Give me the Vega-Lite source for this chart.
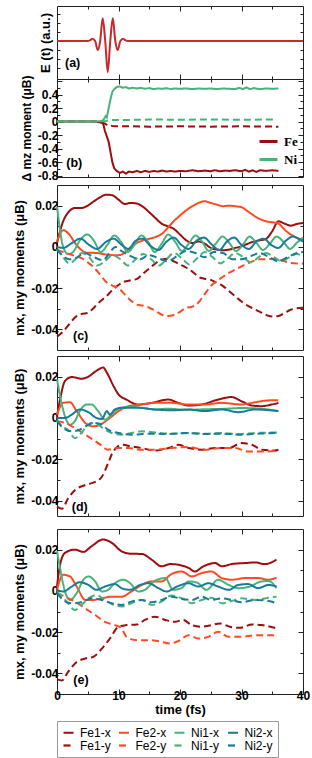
{
"$schema":"https://vega.github.io/schema/vega-lite/v6.json",
"padding":{"left":13,"top":5,"right":3,"bottom":2},
"config":{"font":"Liberation Sans","view":{"stroke":"#222","strokeWidth":1},
 "axis":{"domain":false,"grid":false,"tickColor":"#222","tickWidth":1,"labelFont":"Liberation Sans","labelFontWeight":"bold","labelFontSize":12,"labelColor":"#000","titleFont":"Liberation Sans","titleFontWeight":"bold","titleFontSize":13,"titleColor":"#000","labelFlush":false,"labelOverlap":false}},
"datasets":{
"a":[{"t":0,"v":0},{"t":5,"v":0},{"t":5.35,"v":0.02},{"t":5.75,"v":0.07},{"t":6.2,"v":0},{"t":6.63,"v":-0.3},{"t":7.02,"v":0},{"t":7.43,"v":0.75},{"t":7.84,"v":0},{"t":8.25,"v":-1.02},{"t":8.66,"v":0},{"t":9.07,"v":0.75},{"t":9.48,"v":0},{"t":9.87,"v":-0.3},{"t":10.3,"v":0},{"t":10.75,"v":0.07},{"t":11.15,"v":0.02},{"t":11.5,"v":0},{"t":40,"v":0}],
"b":[
{"s":"Fe","d":"b","t":0,"v":0},{"s":"Fe","d":"b","t":6.5,"v":0},{"s":"Fe","d":"b","t":7.3,"v":-0.01},{"s":"Fe","d":"b","t":7.8,"v":-0.03},{"s":"Fe","d":"b","t":8.3,"v":-0.06},{"s":"Fe","d":"b","t":9,"v":-0.065},{"s":"Fe","d":"b","t":10,"v":-0.07},{"s":"Fe","d":"b","t":12,"v":-0.07},{"s":"Fe","d":"b","t":15,"v":-0.075},{"s":"Fe","d":"b","t":20,"v":-0.07},{"s":"Fe","d":"b","t":25,"v":-0.075},{"s":"Fe","d":"b","t":30,"v":-0.07},{"s":"Fe","d":"b","t":36,"v":-0.075},
{"s":"Fe","d":"a","t":0,"v":0},{"s":"Fe","d":"a","t":6,"v":0},{"s":"Fe","d":"a","t":7,"v":-0.01},{"s":"Fe","d":"a","t":7.5,"v":-0.03},{"s":"Fe","d":"a","t":7.8,"v":-0.14},{"s":"Fe","d":"a","t":8.1,"v":-0.22},{"s":"Fe","d":"a","t":8.4,"v":-0.3},{"s":"Fe","d":"a","t":8.7,"v":-0.45},{"s":"Fe","d":"a","t":9,"v":-0.6},{"s":"Fe","d":"a","t":9.3,"v":-0.69},{"s":"Fe","d":"a","t":9.7,"v":-0.73},{"s":"Fe","d":"a","t":10.2,"v":-0.76},{"s":"Fe","d":"a","t":10.7,"v":-0.74},{"s":"Fe","d":"a","t":11.2,"v":-0.77},{"s":"Fe","d":"a","t":11.7,"v":-0.74},{"s":"Fe","d":"a","t":12.3,"v":-0.75},{"s":"Fe","d":"a","t":13,"v":-0.73},{"s":"Fe","d":"a","t":13.6,"v":-0.75},{"s":"Fe","d":"a","t":14.3,"v":-0.73},{"s":"Fe","d":"a","t":15,"v":-0.745},{"s":"Fe","d":"a","t":15.7,"v":-0.73},{"s":"Fe","d":"a","t":16.4,"v":-0.74},{"s":"Fe","d":"a","t":17.1,"v":-0.725},{"s":"Fe","d":"a","t":17.8,"v":-0.74},{"s":"Fe","d":"a","t":18.5,"v":-0.73},{"s":"Fe","d":"a","t":19.2,"v":-0.74},{"s":"Fe","d":"a","t":20,"v":-0.73},{"s":"Fe","d":"a","t":21,"v":-0.735},{"s":"Fe","d":"a","t":22,"v":-0.72},{"s":"Fe","d":"a","t":23,"v":-0.735},{"s":"Fe","d":"a","t":24,"v":-0.725},{"s":"Fe","d":"a","t":25,"v":-0.735},{"s":"Fe","d":"a","t":25.7,"v":-0.72},{"s":"Fe","d":"a","t":26.5,"v":-0.735},{"s":"Fe","d":"a","t":27.3,"v":-0.725},{"s":"Fe","d":"a","t":28,"v":-0.73},{"s":"Fe","d":"a","t":29,"v":-0.72},{"s":"Fe","d":"a","t":30,"v":-0.735},{"s":"Fe","d":"a","t":30.6,"v":-0.715},{"s":"Fe","d":"a","t":31.2,"v":-0.74},{"s":"Fe","d":"a","t":31.8,"v":-0.72},{"s":"Fe","d":"a","t":32.4,"v":-0.745},{"s":"Fe","d":"a","t":33,"v":-0.72},{"s":"Fe","d":"a","t":34,"v":-0.73},{"s":"Fe","d":"a","t":35,"v":-0.72},{"s":"Fe","d":"a","t":36,"v":-0.73},
{"s":"Ni","d":"b","t":0,"v":0},{"s":"Ni","d":"b","t":7,"v":0},{"s":"Ni","d":"b","t":8,"v":0.01},{"s":"Ni","d":"b","t":8.5,"v":0.02},{"s":"Ni","d":"b","t":9.5,"v":0.025},{"s":"Ni","d":"b","t":12,"v":0.025},{"s":"Ni","d":"b","t":15,"v":0.03},{"s":"Ni","d":"b","t":20,"v":0.028},{"s":"Ni","d":"b","t":25,"v":0.03},{"s":"Ni","d":"b","t":30,"v":0.028},{"s":"Ni","d":"b","t":35.5,"v":0.03},
{"s":"Ni","d":"a","t":0,"v":0},{"s":"Ni","d":"a","t":6,"v":0},{"s":"Ni","d":"a","t":7,"v":0.005},{"s":"Ni","d":"a","t":7.5,"v":0.02},{"s":"Ni","d":"a","t":7.9,"v":0.08},{"s":"Ni","d":"a","t":8.1,"v":0.06},{"s":"Ni","d":"a","t":8.4,"v":0.2},{"s":"Ni","d":"a","t":8.7,"v":0.33},{"s":"Ni","d":"a","t":9,"v":0.44},{"s":"Ni","d":"a","t":9.3,"v":0.48},{"s":"Ni","d":"a","t":9.7,"v":0.51},{"s":"Ni","d":"a","t":10.2,"v":0.52},{"s":"Ni","d":"a","t":10.7,"v":0.5},{"s":"Ni","d":"a","t":11.2,"v":0.51},{"s":"Ni","d":"a","t":11.7,"v":0.49},{"s":"Ni","d":"a","t":12.3,"v":0.5},{"s":"Ni","d":"a","t":13,"v":0.49},{"s":"Ni","d":"a","t":13.6,"v":0.5},{"s":"Ni","d":"a","t":14.3,"v":0.485},{"s":"Ni","d":"a","t":15,"v":0.495},{"s":"Ni","d":"a","t":15.7,"v":0.48},{"s":"Ni","d":"a","t":16.4,"v":0.49},{"s":"Ni","d":"a","t":17.1,"v":0.485},{"s":"Ni","d":"a","t":17.8,"v":0.495},{"s":"Ni","d":"a","t":18.5,"v":0.48},{"s":"Ni","d":"a","t":19.2,"v":0.49},{"s":"Ni","d":"a","t":20,"v":0.485},{"s":"Ni","d":"a","t":21,"v":0.49},{"s":"Ni","d":"a","t":22,"v":0.48},{"s":"Ni","d":"a","t":23,"v":0.49},{"s":"Ni","d":"a","t":24,"v":0.485},{"s":"Ni","d":"a","t":25,"v":0.49},{"s":"Ni","d":"a","t":26,"v":0.48},{"s":"Ni","d":"a","t":27,"v":0.49},{"s":"Ni","d":"a","t":28,"v":0.485},{"s":"Ni","d":"a","t":29,"v":0.48},{"s":"Ni","d":"a","t":29.6,"v":0.5},{"s":"Ni","d":"a","t":30.2,"v":0.48},{"s":"Ni","d":"a","t":30.8,"v":0.505},{"s":"Ni","d":"a","t":31.4,"v":0.48},{"s":"Ni","d":"a","t":32,"v":0.495},{"s":"Ni","d":"a","t":33,"v":0.48},{"s":"Ni","d":"a","t":34,"v":0.49},{"s":"Ni","d":"a","t":35,"v":0.485},{"s":"Ni","d":"a","t":36,"v":0.49}],
"c":[
{"s":"Fe1-x","t":0,"v":0.0019},{"s":"Fe1-x","t":1,"v":0.0124},{"s":"Fe1-x","t":2,"v":0.0173},{"s":"Fe1-x","t":3,"v":0.0189},{"s":"Fe1-x","t":4,"v":0.0189},{"s":"Fe1-x","t":5,"v":0.02},{"s":"Fe1-x","t":6,"v":0.0221},{"s":"Fe1-x","t":7,"v":0.024},{"s":"Fe1-x","t":8,"v":0.0253},{"s":"Fe1-x","t":9,"v":0.025},{"s":"Fe1-x","t":10,"v":0.0229},{"s":"Fe1-x","t":11,"v":0.0208},{"s":"Fe1-x","t":12,"v":0.0213},{"s":"Fe1-x","t":13,"v":0.021},{"s":"Fe1-x","t":14,"v":0.0194},{"s":"Fe1-x","t":15,"v":0.0168},{"s":"Fe1-x","t":16,"v":0.014},{"s":"Fe1-x","t":17,"v":0.0113},{"s":"Fe1-x","t":18,"v":0.01},{"s":"Fe1-x","t":19,"v":0.0087},{"s":"Fe1-x","t":20,"v":0.006},{"s":"Fe1-x","t":21,"v":0.0032},{"s":"Fe1-x","t":22,"v":0.0019},{"s":"Fe1-x","t":23,"v":0.0026},{"s":"Fe1-x","t":24,"v":0.0016},{"s":"Fe1-x","t":25,"v":-0.0005},{"s":"Fe1-x","t":26,"v":-0.0013},{"s":"Fe1-x","t":27,"v":-0.0016},{"s":"Fe1-x","t":28,"v":-0.0013},{"s":"Fe1-x","t":29,"v":-0.0005},{"s":"Fe1-x","t":30,"v":0.0003},{"s":"Fe1-x","t":31,"v":0.0015},{"s":"Fe1-x","t":32,"v":0.0026},{"s":"Fe1-x","t":33,"v":0.0032},{"s":"Fe1-x","t":34,"v":0.0039},{"s":"Fe1-x","t":35,"v":0.0076},{"s":"Fe1-x","t":36,"v":0.0124},{"s":"Fe1-x","t":37,"v":0.0113},{"s":"Fe1-x","t":38,"v":0.0103},{"s":"Fe1-x","t":39,"v":0.0111},{"s":"Fe1-x","t":40,"v":0.0116},
{"s":"Fe2-x","t":0,"v":0.0027},{"s":"Fe2-x","t":1,"v":0.0081},{"s":"Fe2-x","t":2,"v":0.006},{"s":"Fe2-x","t":3,"v":0.0016},{"s":"Fe2-x","t":4,"v":-0.0016},{"s":"Fe2-x","t":5,"v":-0.0029},{"s":"Fe2-x","t":6,"v":-0.0029},{"s":"Fe2-x","t":7,"v":-0.0032},{"s":"Fe2-x","t":8,"v":-0.0037},{"s":"Fe2-x","t":9,"v":-0.004},{"s":"Fe2-x","t":10,"v":-0.004},{"s":"Fe2-x","t":11,"v":-0.0029},{"s":"Fe2-x","t":12,"v":-0.0002},{"s":"Fe2-x","t":13,"v":0.0019},{"s":"Fe2-x","t":14,"v":0.0032},{"s":"Fe2-x","t":15,"v":0.0039},{"s":"Fe2-x","t":16,"v":0.0048},{"s":"Fe2-x","t":17,"v":0.0062},{"s":"Fe2-x","t":18,"v":0.0092},{"s":"Fe2-x","t":19,"v":0.0125},{"s":"Fe2-x","t":20,"v":0.0152},{"s":"Fe2-x","t":21,"v":0.0177},{"s":"Fe2-x","t":22,"v":0.0197},{"s":"Fe2-x","t":23,"v":0.0213},{"s":"Fe2-x","t":24,"v":0.0221},{"s":"Fe2-x","t":25,"v":0.0213},{"s":"Fe2-x","t":26,"v":0.0205},{"s":"Fe2-x","t":27,"v":0.0197},{"s":"Fe2-x","t":28,"v":0.02},{"s":"Fe2-x","t":29,"v":0.0197},{"s":"Fe2-x","t":30,"v":0.0192},{"s":"Fe2-x","t":31,"v":0.0173},{"s":"Fe2-x","t":32,"v":0.0152},{"s":"Fe2-x","t":33,"v":0.0135},{"s":"Fe2-x","t":34,"v":0.0124},{"s":"Fe2-x","t":35,"v":0.0119},{"s":"Fe2-x","t":36,"v":0.0113},{"s":"Fe2-x","t":37,"v":0.0084},{"s":"Fe2-x","t":38,"v":0.006},{"s":"Fe2-x","t":39,"v":0.0044},{"s":"Fe2-x","t":40,"v":0.0035},
{"s":"Ni1-x","t":0,"v":0.0195},{"s":"Ni1-x","t":0.5,"v":0.008},{"s":"Ni1-x","t":1,"v":0},{"s":"Ni1-x","t":1.8,"v":-0.0035},{"s":"Ni1-x","t":2.6,"v":-0.0025},{"s":"Ni1-x","t":3.7,"v":0.003},{"s":"Ni1-x","t":4.9,"v":0.006},{"s":"Ni1-x","t":6,"v":0.003},{"s":"Ni1-x","t":7.1,"v":-0.0025},{"s":"Ni1-x","t":8.2,"v":0.001},{"s":"Ni1-x","t":9.3,"v":0.0055},{"s":"Ni1-x","t":10.4,"v":0.0025},{"s":"Ni1-x","t":11.5,"v":-0.0025},{"s":"Ni1-x","t":12.6,"v":0.001},{"s":"Ni1-x","t":13.7,"v":0.0055},{"s":"Ni1-x","t":14.8,"v":0.0025},{"s":"Ni1-x","t":15.9,"v":-0.0025},{"s":"Ni1-x","t":17,"v":0.0015},{"s":"Ni1-x","t":18.1,"v":0.006},{"s":"Ni1-x","t":19.2,"v":0.0025},{"s":"Ni1-x","t":20.3,"v":-0.002},{"s":"Ni1-x","t":21.4,"v":0.0015},{"s":"Ni1-x","t":22.5,"v":0.0055},{"s":"Ni1-x","t":23.6,"v":0.0025},{"s":"Ni1-x","t":24.7,"v":-0.002},{"s":"Ni1-x","t":25.8,"v":0.0015},{"s":"Ni1-x","t":26.9,"v":0.005},{"s":"Ni1-x","t":28,"v":0.002},{"s":"Ni1-x","t":29.1,"v":-0.002},{"s":"Ni1-x","t":30.2,"v":0.001},{"s":"Ni1-x","t":31.3,"v":0.005},{"s":"Ni1-x","t":32.4,"v":0.002},{"s":"Ni1-x","t":33.5,"v":-0.0015},{"s":"Ni1-x","t":34.6,"v":0.0015},{"s":"Ni1-x","t":35.7,"v":0.005},{"s":"Ni1-x","t":36.8,"v":0.0025},{"s":"Ni1-x","t":37.9,"v":-0.001},{"s":"Ni1-x","t":39,"v":0.002},{"s":"Ni1-x","t":40,"v":0.0045},
{"s":"Ni2-x","t":0,"v":0},{"s":"Ni2-x","t":1,"v":-0.0005},{"s":"Ni2-x","t":2.5,"v":0.002},{"s":"Ni2-x","t":3.8,"v":0.004},{"s":"Ni2-x","t":5.2,"v":0.001},{"s":"Ni2-x","t":6.5,"v":-0.001},{"s":"Ni2-x","t":8,"v":0.0025},{"s":"Ni2-x","t":9.2,"v":0.004},{"s":"Ni2-x","t":10.5,"v":0.001},{"s":"Ni2-x","t":11.6,"v":-0.001},{"s":"Ni2-x","t":12.8,"v":0.003},{"s":"Ni2-x","t":13.9,"v":0.004},{"s":"Ni2-x","t":15.2,"v":0.0005},{"s":"Ni2-x","t":16.5,"v":-0.0015},{"s":"Ni2-x","t":17.8,"v":0.0025},{"s":"Ni2-x","t":19,"v":0.0045},{"s":"Ni2-x","t":20.2,"v":0.001},{"s":"Ni2-x","t":21.4,"v":-0.001},{"s":"Ni2-x","t":22.7,"v":0.003},{"s":"Ni2-x","t":23.9,"v":0.0045},{"s":"Ni2-x","t":25.2,"v":0.001},{"s":"Ni2-x","t":26.4,"v":-0.0015},{"s":"Ni2-x","t":27.6,"v":0.0025},{"s":"Ni2-x","t":28.8,"v":0.0045},{"s":"Ni2-x","t":30,"v":0.001},{"s":"Ni2-x","t":31.2,"v":-0.001},{"s":"Ni2-x","t":32.4,"v":0.0025},{"s":"Ni2-x","t":33.6,"v":0.004},{"s":"Ni2-x","t":34.8,"v":0.001},{"s":"Ni2-x","t":36,"v":-0.0005},{"s":"Ni2-x","t":37.2,"v":0.003},{"s":"Ni2-x","t":38.4,"v":0.005},{"s":"Ni2-x","t":39.5,"v":0.0035},{"s":"Ni2-x","t":40,"v":0.0025},
{"s":"Fe1-y","t":0,"v":-0.0435},{"s":"Fe1-y","t":1,"v":-0.041},{"s":"Fe1-y","t":2,"v":-0.0375},{"s":"Fe1-y","t":3,"v":-0.034},{"s":"Fe1-y","t":4,"v":-0.0325},{"s":"Fe1-y","t":5,"v":-0.032},{"s":"Fe1-y","t":6,"v":-0.0295},{"s":"Fe1-y","t":7,"v":-0.0265},{"s":"Fe1-y","t":8,"v":-0.024},{"s":"Fe1-y","t":9,"v":-0.021},{"s":"Fe1-y","t":10,"v":-0.0185},{"s":"Fe1-y","t":11,"v":-0.0168},{"s":"Fe1-y","t":12,"v":-0.0162},{"s":"Fe1-y","t":13,"v":-0.0155},{"s":"Fe1-y","t":14,"v":-0.013},{"s":"Fe1-y","t":15,"v":-0.0105},{"s":"Fe1-y","t":16,"v":-0.008},{"s":"Fe1-y","t":17,"v":-0.0062},{"s":"Fe1-y","t":18,"v":-0.0057},{"s":"Fe1-y","t":19,"v":-0.007},{"s":"Fe1-y","t":20,"v":-0.0085},{"s":"Fe1-y","t":21,"v":-0.01},{"s":"Fe1-y","t":22,"v":-0.012},{"s":"Fe1-y","t":23,"v":-0.0145},{"s":"Fe1-y","t":24,"v":-0.0155},{"s":"Fe1-y","t":25,"v":-0.016},{"s":"Fe1-y","t":26,"v":-0.0175},{"s":"Fe1-y","t":27,"v":-0.019},{"s":"Fe1-y","t":28,"v":-0.0215},{"s":"Fe1-y","t":29,"v":-0.024},{"s":"Fe1-y","t":30,"v":-0.0265},{"s":"Fe1-y","t":31,"v":-0.0285},{"s":"Fe1-y","t":32,"v":-0.03},{"s":"Fe1-y","t":33,"v":-0.0315},{"s":"Fe1-y","t":34,"v":-0.033},{"s":"Fe1-y","t":35,"v":-0.0338},{"s":"Fe1-y","t":36,"v":-0.0335},{"s":"Fe1-y","t":37,"v":-0.032},{"s":"Fe1-y","t":38,"v":-0.0305},{"s":"Fe1-y","t":39,"v":-0.0298},{"s":"Fe1-y","t":40,"v":-0.0295},
{"s":"Fe2-y","t":0,"v":-0.0013},{"s":"Fe2-y","t":1,"v":-0.0025},{"s":"Fe2-y","t":2,"v":-0.0035},{"s":"Fe2-y","t":3,"v":-0.0045},{"s":"Fe2-y","t":4,"v":-0.0055},{"s":"Fe2-y","t":5,"v":-0.0075},{"s":"Fe2-y","t":6,"v":-0.01},{"s":"Fe2-y","t":7,"v":-0.0135},{"s":"Fe2-y","t":8,"v":-0.017},{"s":"Fe2-y","t":9,"v":-0.0188},{"s":"Fe2-y","t":10,"v":-0.02},{"s":"Fe2-y","t":11,"v":-0.023},{"s":"Fe2-y","t":12,"v":-0.026},{"s":"Fe2-y","t":13,"v":-0.028},{"s":"Fe2-y","t":14,"v":-0.0285},{"s":"Fe2-y","t":15,"v":-0.0295},{"s":"Fe2-y","t":16,"v":-0.031},{"s":"Fe2-y","t":17,"v":-0.0328},{"s":"Fe2-y","t":18,"v":-0.0335},{"s":"Fe2-y","t":19,"v":-0.033},{"s":"Fe2-y","t":20,"v":-0.0315},{"s":"Fe2-y","t":21,"v":-0.0295},{"s":"Fe2-y","t":22,"v":-0.029},{"s":"Fe2-y","t":23,"v":-0.027},{"s":"Fe2-y","t":24,"v":-0.023},{"s":"Fe2-y","t":25,"v":-0.019},{"s":"Fe2-y","t":26,"v":-0.0165},{"s":"Fe2-y","t":27,"v":-0.0145},{"s":"Fe2-y","t":28,"v":-0.0125},{"s":"Fe2-y","t":29,"v":-0.011},{"s":"Fe2-y","t":30,"v":-0.0095},{"s":"Fe2-y","t":31,"v":-0.008},{"s":"Fe2-y","t":32,"v":-0.0068},{"s":"Fe2-y","t":33,"v":-0.006},{"s":"Fe2-y","t":34,"v":-0.006},{"s":"Fe2-y","t":35,"v":-0.0058},{"s":"Fe2-y","t":36,"v":-0.0062},{"s":"Fe2-y","t":37,"v":-0.007},{"s":"Fe2-y","t":38,"v":-0.0078},{"s":"Fe2-y","t":39,"v":-0.008},{"s":"Fe2-y","t":40,"v":-0.008},
{"s":"Ni1-y","t":0,"v":-0.001},{"s":"Ni1-y","t":1,"v":-0.005},{"s":"Ni1-y","t":2,"v":-0.008},{"s":"Ni1-y","t":3,"v":-0.006},{"s":"Ni1-y","t":4,"v":-0.003},{"s":"Ni1-y","t":5.2,"v":-0.005},{"s":"Ni1-y","t":6.5,"v":-0.009},{"s":"Ni1-y","t":7.8,"v":-0.007},{"s":"Ni1-y","t":9,"v":-0.004},{"s":"Ni1-y","t":10.3,"v":-0.006},{"s":"Ni1-y","t":11.5,"v":-0.009},{"s":"Ni1-y","t":12.8,"v":-0.006},{"s":"Ni1-y","t":14,"v":-0.0035},{"s":"Ni1-y","t":15.3,"v":-0.006},{"s":"Ni1-y","t":16.6,"v":-0.009},{"s":"Ni1-y","t":17.8,"v":-0.006},{"s":"Ni1-y","t":19,"v":-0.003},{"s":"Ni1-y","t":20.3,"v":-0.0055},{"s":"Ni1-y","t":21.5,"v":-0.0085},{"s":"Ni1-y","t":22.8,"v":-0.0055},{"s":"Ni1-y","t":24,"v":-0.0025},{"s":"Ni1-y","t":25.3,"v":-0.005},{"s":"Ni1-y","t":26.6,"v":-0.008},{"s":"Ni1-y","t":27.8,"v":-0.0055},{"s":"Ni1-y","t":29,"v":-0.003},{"s":"Ni1-y","t":30.3,"v":-0.005},{"s":"Ni1-y","t":31.5,"v":-0.0075},{"s":"Ni1-y","t":32.8,"v":-0.005},{"s":"Ni1-y","t":34,"v":-0.003},{"s":"Ni1-y","t":35.3,"v":-0.005},{"s":"Ni1-y","t":36.5,"v":-0.007},{"s":"Ni1-y","t":37.8,"v":-0.005},{"s":"Ni1-y","t":39,"v":-0.0035},{"s":"Ni1-y","t":40,"v":-0.0045},
{"s":"Ni2-y","t":0,"v":-0.0013},{"s":"Ni2-y","t":1,"v":-0.0045},{"s":"Ni2-y","t":2,"v":-0.006},{"s":"Ni2-y","t":3,"v":-0.0055},{"s":"Ni2-y","t":4.5,"v":-0.003},{"s":"Ni2-y","t":6,"v":-0.005},{"s":"Ni2-y","t":7.5,"v":-0.0065},{"s":"Ni2-y","t":8.5,"v":-0.003},{"s":"Ni2-y","t":9.5,"v":0},{"s":"Ni2-y","t":10.5,"v":-0.002},{"s":"Ni2-y","t":12,"v":-0.0045},{"s":"Ni2-y","t":13.5,"v":-0.006},{"s":"Ni2-y","t":15,"v":-0.004},{"s":"Ni2-y","t":16.5,"v":-0.0055},{"s":"Ni2-y","t":18,"v":-0.007},{"s":"Ni2-y","t":19.5,"v":-0.0045},{"s":"Ni2-y","t":21,"v":-0.002},{"s":"Ni2-y","t":22.5,"v":-0.003},{"s":"Ni2-y","t":24,"v":-0.005},{"s":"Ni2-y","t":25.5,"v":-0.0025},{"s":"Ni2-y","t":27,"v":-0.003},{"s":"Ni2-y","t":28.5,"v":-0.006},{"s":"Ni2-y","t":30,"v":-0.006},{"s":"Ni2-y","t":31.5,"v":-0.0045},{"s":"Ni2-y","t":33,"v":-0.003},{"s":"Ni2-y","t":34.5,"v":-0.005},{"s":"Ni2-y","t":36,"v":-0.007},{"s":"Ni2-y","t":37.5,"v":-0.005},{"s":"Ni2-y","t":39,"v":-0.003},{"s":"Ni2-y","t":40,"v":-0.0025}],
"d":[
{"s":"Fe1-x","t":0,"v":0.0008},{"s":"Fe1-x","t":0.5,"v":0.009},{"s":"Fe1-x","t":1.3,"v":0.0179},{"s":"Fe1-x","t":2.4,"v":0.0198},{"s":"Fe1-x","t":4,"v":0.019},{"s":"Fe1-x","t":5.1,"v":0.02},{"s":"Fe1-x","t":6.4,"v":0.0228},{"s":"Fe1-x","t":7.5,"v":0.0244},{"s":"Fe1-x","t":8.1,"v":0.022},{"s":"Fe1-x","t":9.2,"v":0.0154},{"s":"Fe1-x","t":10,"v":0.0114},{"s":"Fe1-x","t":11.3,"v":0.0089},{"s":"Fe1-x","t":13.2,"v":0.0065},{"s":"Fe1-x","t":15.4,"v":0.0073},{"s":"Fe1-x","t":18.1,"v":0.0089},{"s":"Fe1-x","t":19.7,"v":0.0073},{"s":"Fe1-x","t":21.4,"v":0.006},{"s":"Fe1-x","t":23.5,"v":0.0065},{"s":"Fe1-x","t":26.2,"v":0.0089},{"s":"Fe1-x","t":28.4,"v":0.0101},{"s":"Fe1-x","t":30,"v":0.0081},{"s":"Fe1-x","t":31.7,"v":0.006},{"s":"Fe1-x","t":33.3,"v":0.0057},{"s":"Fe1-x","t":34.9,"v":0.0065},{"s":"Fe1-x","t":36,"v":0.0073},
{"s":"Fe2-x","t":0,"v":0.0016},{"s":"Fe2-x","t":1,"v":0.0073},{"s":"Fe2-x","t":2.1,"v":0.0076},{"s":"Fe2-x","t":3.2,"v":0.0033},{"s":"Fe2-x","t":4.6,"v":-0.0024},{"s":"Fe2-x","t":5.9,"v":-0.0041},{"s":"Fe2-x","t":7.3,"v":-0.0028},{"s":"Fe2-x","t":8.6,"v":0},{"s":"Fe2-x","t":10,"v":0.0033},{"s":"Fe2-x","t":11.6,"v":0.0057},{"s":"Fe2-x","t":13.8,"v":0.0065},{"s":"Fe2-x","t":15.9,"v":0.0073},{"s":"Fe2-x","t":18.6,"v":0.0073},{"s":"Fe2-x","t":21.4,"v":0.0065},{"s":"Fe2-x","t":24,"v":0.0065},{"s":"Fe2-x","t":26.8,"v":0.0073},{"s":"Fe2-x","t":30,"v":0.0065},{"s":"Fe2-x","t":32.2,"v":0.0076},{"s":"Fe2-x","t":34.4,"v":0.0085},{"s":"Fe2-x","t":36,"v":0.0086},
{"s":"Ni1-x","t":0,"v":0.0187},{"s":"Ni1-x","t":0.5,"v":0.0106},{"s":"Ni1-x","t":1.3,"v":0.0008},{"s":"Ni1-x","t":2.1,"v":-0.0033},{"s":"Ni1-x","t":2.9,"v":-0.0016},{"s":"Ni1-x","t":3.7,"v":0.0033},{"s":"Ni1-x","t":4.8,"v":0.0065},{"s":"Ni1-x","t":5.6,"v":0.0065},{"s":"Ni1-x","t":6.7,"v":0.0033},{"s":"Ni1-x","t":7.8,"v":-0.0008},{"s":"Ni1-x","t":8.6,"v":0.0008},{"s":"Ni1-x","t":9.4,"v":0.0033},{"s":"Ni1-x","t":10.5,"v":0.0049},{"s":"Ni1-x","t":12.1,"v":0.0054},{"s":"Ni1-x","t":13.8,"v":0.0049},{"s":"Ni1-x","t":15.9,"v":0.0041},{"s":"Ni1-x","t":18,"v":0.0045},{"s":"Ni1-x","t":21,"v":0.0039},{"s":"Ni1-x","t":24,"v":0.0042},{"s":"Ni1-x","t":27,"v":0.0044},{"s":"Ni1-x","t":30,"v":0.0048},{"s":"Ni1-x","t":33,"v":0.0045},{"s":"Ni1-x","t":36,"v":0.0033},
{"s":"Ni2-x","t":0,"v":0},{"s":"Ni2-x","t":1.3,"v":0},{"s":"Ni2-x","t":2.4,"v":0.0016},{"s":"Ni2-x","t":3.7,"v":0.0041},{"s":"Ni2-x","t":5.1,"v":0.0028},{"s":"Ni2-x","t":6.4,"v":0},{"s":"Ni2-x","t":7.3,"v":-0.0005},{"s":"Ni2-x","t":8.1,"v":0.0033},{"s":"Ni2-x","t":8.6,"v":0.0016},{"s":"Ni2-x","t":9.4,"v":0.0041},{"s":"Ni2-x","t":10.5,"v":0.0049},{"s":"Ni2-x","t":13.2,"v":0.0049},{"s":"Ni2-x","t":15.9,"v":0.0041},{"s":"Ni2-x","t":18.6,"v":0.0037},{"s":"Ni2-x","t":21.4,"v":0.0041},{"s":"Ni2-x","t":24,"v":0.0033},{"s":"Ni2-x","t":26.8,"v":0.0041},{"s":"Ni2-x","t":29.5,"v":0.0028},{"s":"Ni2-x","t":32.2,"v":0.0041},{"s":"Ni2-x","t":36,"v":0.0033},
{"s":"Fe1-y","t":0,"v":-0.043},{"s":"Fe1-y","t":0.8,"v":-0.044},{"s":"Fe1-y","t":1.8,"v":-0.039},{"s":"Fe1-y","t":2.9,"v":-0.035},{"s":"Fe1-y","t":4.6,"v":-0.0325},{"s":"Fe1-y","t":6.2,"v":-0.031},{"s":"Fe1-y","t":7.3,"v":-0.0285},{"s":"Fe1-y","t":8.3,"v":-0.022},{"s":"Fe1-y","t":9,"v":-0.017},{"s":"Fe1-y","t":9.7,"v":-0.0143},{"s":"Fe1-y","t":10.5,"v":-0.013},{"s":"Fe1-y","t":12.1,"v":-0.0138},{"s":"Fe1-y","t":13.8,"v":-0.0146},{"s":"Fe1-y","t":15.9,"v":-0.0158},{"s":"Fe1-y","t":18.1,"v":-0.0146},{"s":"Fe1-y","t":19.7,"v":-0.013},{"s":"Fe1-y","t":21.4,"v":-0.0146},{"s":"Fe1-y","t":23.5,"v":-0.0154},{"s":"Fe1-y","t":25.7,"v":-0.0146},{"s":"Fe1-y","t":27.9,"v":-0.0146},{"s":"Fe1-y","t":30,"v":-0.0122},{"s":"Fe1-y","t":31.7,"v":-0.013},{"s":"Fe1-y","t":33.3,"v":-0.0154},{"s":"Fe1-y","t":35.4,"v":-0.0158},{"s":"Fe1-y","t":36,"v":-0.0154},
{"s":"Fe2-y","t":0,"v":-0.0016},{"s":"Fe2-y","t":1.3,"v":-0.0024},{"s":"Fe2-y","t":2.9,"v":-0.0049},{"s":"Fe2-y","t":4.6,"v":-0.0081},{"s":"Fe2-y","t":5.9,"v":-0.0106},{"s":"Fe2-y","t":7.3,"v":-0.0135},{"s":"Fe2-y","t":8.3,"v":-0.0154},{"s":"Fe2-y","t":9.7,"v":-0.0146},{"s":"Fe2-y","t":11.6,"v":-0.0146},{"s":"Fe2-y","t":13.8,"v":-0.0154},{"s":"Fe2-y","t":15.9,"v":-0.0154},{"s":"Fe2-y","t":18.6,"v":-0.0146},{"s":"Fe2-y","t":21.4,"v":-0.0141},{"s":"Fe2-y","t":24,"v":-0.0154},{"s":"Fe2-y","t":26.8,"v":-0.0146},{"s":"Fe2-y","t":29,"v":-0.0146},{"s":"Fe2-y","t":31.1,"v":-0.0163},{"s":"Fe2-y","t":33.3,"v":-0.0163},{"s":"Fe2-y","t":36,"v":-0.0158},
{"s":"Ni1-y","t":0,"v":-0.0008},{"s":"Ni1-y","t":0.8,"v":-0.004},{"s":"Ni1-y","t":1.8,"v":-0.0057},{"s":"Ni1-y","t":2.9,"v":-0.0098},{"s":"Ni1-y","t":3.7,"v":-0.0081},{"s":"Ni1-y","t":4.6,"v":-0.0049},{"s":"Ni1-y","t":5.6,"v":-0.0024},{"s":"Ni1-y","t":6.7,"v":-0.0033},{"s":"Ni1-y","t":7.8,"v":-0.0057},{"s":"Ni1-y","t":8.9,"v":-0.0073},{"s":"Ni1-y","t":10.5,"v":-0.0081},{"s":"Ni1-y","t":12.1,"v":-0.0073},{"s":"Ni1-y","t":13.8,"v":-0.0065},{"s":"Ni1-y","t":15.9,"v":-0.007},{"s":"Ni1-y","t":18.6,"v":-0.0076},{"s":"Ni1-y","t":21.4,"v":-0.0073},{"s":"Ni1-y","t":24,"v":-0.0076},{"s":"Ni1-y","t":26.8,"v":-0.0073},{"s":"Ni1-y","t":29.5,"v":-0.0078},{"s":"Ni1-y","t":32.2,"v":-0.0073},{"s":"Ni1-y","t":36,"v":-0.007},
{"s":"Ni2-y","t":0,"v":-0.0016},{"s":"Ni2-y","t":1,"v":-0.0049},{"s":"Ni2-y","t":2.4,"v":-0.0065},{"s":"Ni2-y","t":3.7,"v":-0.0057},{"s":"Ni2-y","t":5.1,"v":-0.0033},{"s":"Ni2-y","t":6.2,"v":-0.0024},{"s":"Ni2-y","t":7.3,"v":-0.0033},{"s":"Ni2-y","t":8.3,"v":-0.0057},{"s":"Ni2-y","t":10,"v":-0.0073},{"s":"Ni2-y","t":12.1,"v":-0.0081},{"s":"Ni2-y","t":15,"v":-0.0076},{"s":"Ni2-y","t":18,"v":-0.0078},{"s":"Ni2-y","t":21,"v":-0.0073},{"s":"Ni2-y","t":24,"v":-0.0078},{"s":"Ni2-y","t":27,"v":-0.0076},{"s":"Ni2-y","t":30,"v":-0.0081},{"s":"Ni2-y","t":33,"v":-0.0076},{"s":"Ni2-y","t":36,"v":-0.0073}],
"e":[
{"s":"Fe1-x","t":0,"v":0.0021},{"s":"Fe1-x","t":0.5,"v":0.0127},{"s":"Fe1-x","t":1.3,"v":0.0184},{"s":"Fe1-x","t":2.9,"v":0.02},{"s":"Fe1-x","t":4.3,"v":0.0189},{"s":"Fe1-x","t":5.6,"v":0.0216},{"s":"Fe1-x","t":7.5,"v":0.0249},{"s":"Fe1-x","t":8.9,"v":0.0233},{"s":"Fe1-x","t":10.5,"v":0.0192},{"s":"Fe1-x","t":12.1,"v":0.018},{"s":"Fe1-x","t":13.8,"v":0.0179},{"s":"Fe1-x","t":15.4,"v":0.0151},{"s":"Fe1-x","t":17,"v":0.0119},{"s":"Fe1-x","t":18.4,"v":0.013},{"s":"Fe1-x","t":19.7,"v":0.0127},{"s":"Fe1-x","t":21.4,"v":0.0111},{"s":"Fe1-x","t":22.4,"v":0.0094},{"s":"Fe1-x","t":23.8,"v":0.0119},{"s":"Fe1-x","t":25.7,"v":0.0135},{"s":"Fe1-x","t":26.8,"v":0.0119},{"s":"Fe1-x","t":28.4,"v":0.013},{"s":"Fe1-x","t":30.6,"v":0.0135},{"s":"Fe1-x","t":32.2,"v":0.0138},{"s":"Fe1-x","t":33.8,"v":0.013},{"s":"Fe1-x","t":35.7,"v":0.0151},
{"s":"Fe2-x","t":0,"v":0.0005},{"s":"Fe2-x","t":1,"v":0.0078},{"s":"Fe2-x","t":2.1,"v":0.007},{"s":"Fe2-x","t":3.2,"v":0.0021},{"s":"Fe2-x","t":4.6,"v":-0.0044},{"s":"Fe2-x","t":5.9,"v":-0.0044},{"s":"Fe2-x","t":7.3,"v":-0.0036},{"s":"Fe2-x","t":8.9,"v":-0.0028},{"s":"Fe2-x","t":10.5,"v":-0.0028},{"s":"Fe2-x","t":12.1,"v":-0.0003},{"s":"Fe2-x","t":13.8,"v":0.0029},{"s":"Fe2-x","t":15.4,"v":0.0046},{"s":"Fe2-x","t":17,"v":0.0046},{"s":"Fe2-x","t":18.6,"v":0.0081},{"s":"Fe2-x","t":20.3,"v":0.0094},{"s":"Fe2-x","t":21.9,"v":0.007},{"s":"Fe2-x","t":23.5,"v":0.0086},{"s":"Fe2-x","t":25.1,"v":0.0094},{"s":"Fe2-x","t":26.8,"v":0.0062},{"s":"Fe2-x","t":28.4,"v":0.0054},{"s":"Fe2-x","t":30.6,"v":0.0062},{"s":"Fe2-x","t":32.7,"v":0.0062},{"s":"Fe2-x","t":34.4,"v":0.0054},{"s":"Fe2-x","t":35.7,"v":0.0065},
{"s":"Ni1-x","t":0,"v":0.0192},{"s":"Ni1-x","t":0.5,"v":0.011},{"s":"Ni1-x","t":1.3,"v":-0.0003},{"s":"Ni1-x","t":2.1,"v":-0.0044},{"s":"Ni1-x","t":3.2,"v":-0.0011},{"s":"Ni1-x","t":4.3,"v":0.0054},{"s":"Ni1-x","t":5.1,"v":0.007},{"s":"Ni1-x","t":6.2,"v":0.0046},{"s":"Ni1-x","t":7.3,"v":-0.0003},{"s":"Ni1-x","t":8.3,"v":0.0005},{"s":"Ni1-x","t":9.4,"v":0.0037},{"s":"Ni1-x","t":10.8,"v":0.0054},{"s":"Ni1-x","t":11.9,"v":0.0037},{"s":"Ni1-x","t":13.2,"v":-0.0003},{"s":"Ni1-x","t":14.3,"v":0.0005},{"s":"Ni1-x","t":15.9,"v":0.0049},{"s":"Ni1-x","t":17.6,"v":0.0062},{"s":"Ni1-x","t":18.9,"v":0.0005},{"s":"Ni1-x","t":20.3,"v":0.0015},{"s":"Ni1-x","t":21.4,"v":0.0046},{"s":"Ni1-x","t":22.8,"v":0.004},{"s":"Ni1-x","t":24.3,"v":0.0005},{"s":"Ni1-x","t":26.2,"v":0.0054},{"s":"Ni1-x","t":27.9,"v":0.0029},{"s":"Ni1-x","t":29.5,"v":0.0013},{"s":"Ni1-x","t":31.2,"v":0.002},{"s":"Ni1-x","t":33.3,"v":0.0046},{"s":"Ni1-x","t":34.4,"v":0.0048},{"s":"Ni1-x","t":35.7,"v":0.0013},
{"s":"Ni2-x","t":0,"v":0.0005},{"s":"Ni2-x","t":1,"v":-0.0003},{"s":"Ni2-x","t":2.4,"v":0.0021},{"s":"Ni2-x","t":3.7,"v":0.0042},{"s":"Ni2-x","t":5.1,"v":0.0029},{"s":"Ni2-x","t":6.4,"v":0.0005},{"s":"Ni2-x","t":7.8,"v":0.0021},{"s":"Ni2-x","t":9.4,"v":0.0033},{"s":"Ni2-x","t":10.5,"v":0.0013},{"s":"Ni2-x","t":11.9,"v":0.0005},{"s":"Ni2-x","t":13.5,"v":0.0029},{"s":"Ni2-x","t":14.9,"v":0.0037},{"s":"Ni2-x","t":16.5,"v":0.0013},{"s":"Ni2-x","t":17.8,"v":-0.0003},{"s":"Ni2-x","t":19.5,"v":0.0021},{"s":"Ni2-x","t":21.4,"v":0.0037},{"s":"Ni2-x","t":23,"v":0.0021},{"s":"Ni2-x","t":24.6,"v":0.0037},{"s":"Ni2-x","t":26.2,"v":0.0021},{"s":"Ni2-x","t":27.9,"v":0.0005},{"s":"Ni2-x","t":29.5,"v":0.0029},{"s":"Ni2-x","t":31.1,"v":0.0033},{"s":"Ni2-x","t":32.7,"v":0.0013},{"s":"Ni2-x","t":34.4,"v":0.0029},{"s":"Ni2-x","t":35.7,"v":0.0021},
{"s":"Fe1-y","t":0,"v":-0.0429},{"s":"Fe1-y","t":0.8,"v":-0.0434},{"s":"Fe1-y","t":1.8,"v":-0.0393},{"s":"Fe1-y","t":3.2,"v":-0.0345},{"s":"Fe1-y","t":4.6,"v":-0.0328},{"s":"Fe1-y","t":5.9,"v":-0.032},{"s":"Fe1-y","t":7.3,"v":-0.028},{"s":"Fe1-y","t":8.6,"v":-0.0231},{"s":"Fe1-y","t":10,"v":-0.0174},{"s":"Fe1-y","t":11.3,"v":-0.0166},{"s":"Fe1-y","t":13,"v":-0.0163},{"s":"Fe1-y","t":14.3,"v":-0.0141},{"s":"Fe1-y","t":15.9,"v":-0.0125},{"s":"Fe1-y","t":17.6,"v":-0.0141},{"s":"Fe1-y","t":19.2,"v":-0.015},{"s":"Fe1-y","t":20.5,"v":-0.0141},{"s":"Fe1-y","t":21.9,"v":-0.0166},{"s":"Fe1-y","t":23.5,"v":-0.0174},{"s":"Fe1-y","t":25.1,"v":-0.0166},{"s":"Fe1-y","t":26.5,"v":-0.0158},{"s":"Fe1-y","t":28.1,"v":-0.0174},{"s":"Fe1-y","t":29.8,"v":-0.0179},{"s":"Fe1-y","t":31.7,"v":-0.0163},{"s":"Fe1-y","t":33.3,"v":-0.0166},{"s":"Fe1-y","t":35.7,"v":-0.0182},
{"s":"Fe2-y","t":0,"v":-0.0011},{"s":"Fe2-y","t":1.3,"v":-0.0028},{"s":"Fe2-y","t":2.9,"v":-0.0052},{"s":"Fe2-y","t":4.6,"v":-0.0085},{"s":"Fe2-y","t":6.2,"v":-0.0117},{"s":"Fe2-y","t":7.8,"v":-0.015},{"s":"Fe2-y","t":9.4,"v":-0.0166},{"s":"Fe2-y","t":10.5,"v":-0.0182},{"s":"Fe2-y","t":11.3,"v":-0.0223},{"s":"Fe2-y","t":13,"v":-0.0239},{"s":"Fe2-y","t":14.9,"v":-0.0239},{"s":"Fe2-y","t":16.5,"v":-0.0244},{"s":"Fe2-y","t":18.4,"v":-0.0255},{"s":"Fe2-y","t":19.7,"v":-0.0244},{"s":"Fe2-y","t":21.4,"v":-0.0215},{"s":"Fe2-y","t":23,"v":-0.0231},{"s":"Fe2-y","t":24.6,"v":-0.0223},{"s":"Fe2-y","t":26.2,"v":-0.0198},{"s":"Fe2-y","t":27.9,"v":-0.0223},{"s":"Fe2-y","t":30,"v":-0.0223},{"s":"Fe2-y","t":32.2,"v":-0.0215},{"s":"Fe2-y","t":34.4,"v":-0.0215},{"s":"Fe2-y","t":35.7,"v":-0.0215},
{"s":"Ni1-y","t":0,"v":-0.0003},{"s":"Ni1-y","t":0.8,"v":-0.0028},{"s":"Ni1-y","t":1.8,"v":-0.006},{"s":"Ni1-y","t":2.9,"v":-0.0093},{"s":"Ni1-y","t":4,"v":-0.0068},{"s":"Ni1-y","t":5.1,"v":-0.0036},{"s":"Ni1-y","t":6.4,"v":-0.002},{"s":"Ni1-y","t":7.8,"v":-0.0044},{"s":"Ni1-y","t":9.2,"v":-0.0068},{"s":"Ni1-y","t":10.5,"v":-0.0076},{"s":"Ni1-y","t":12.1,"v":-0.006},{"s":"Ni1-y","t":13.8,"v":-0.0044},{"s":"Ni1-y","t":15.4,"v":-0.0068},{"s":"Ni1-y","t":17,"v":-0.0052},{"s":"Ni1-y","t":18.6,"v":-0.0023},{"s":"Ni1-y","t":20.3,"v":-0.0036},{"s":"Ni1-y","t":21.9,"v":-0.006},{"s":"Ni1-y","t":23.5,"v":-0.0044},{"s":"Ni1-y","t":25.1,"v":-0.0033},{"s":"Ni1-y","t":26.8,"v":-0.006},{"s":"Ni1-y","t":28.4,"v":-0.0049},{"s":"Ni1-y","t":30,"v":-0.0036},{"s":"Ni1-y","t":32.2,"v":-0.0044},{"s":"Ni1-y","t":34.4,"v":-0.0033},{"s":"Ni1-y","t":35.7,"v":-0.0028},
{"s":"Ni2-y","t":0,"v":-0.0011},{"s":"Ni2-y","t":1,"v":-0.0044},{"s":"Ni2-y","t":2.4,"v":-0.006},{"s":"Ni2-y","t":4,"v":-0.0055},{"s":"Ni2-y","t":5.6,"v":-0.0036},{"s":"Ni2-y","t":7.3,"v":-0.0044},{"s":"Ni2-y","t":8.9,"v":-0.006},{"s":"Ni2-y","t":10.5,"v":-0.0068},{"s":"Ni2-y","t":12.1,"v":-0.0052},{"s":"Ni2-y","t":13.8,"v":-0.0044},{"s":"Ni2-y","t":15.4,"v":-0.0055},{"s":"Ni2-y","t":17,"v":-0.0044},{"s":"Ni2-y","t":18.6,"v":-0.0028},{"s":"Ni2-y","t":20.3,"v":-0.0039},{"s":"Ni2-y","t":21.9,"v":-0.0044},{"s":"Ni2-y","t":23.5,"v":-0.0028},{"s":"Ni2-y","t":25.1,"v":-0.0044},{"s":"Ni2-y","t":26.8,"v":-0.0036},{"s":"Ni2-y","t":28.4,"v":-0.0044},{"s":"Ni2-y","t":30,"v":-0.0055},{"s":"Ni2-y","t":32.2,"v":-0.0044},{"s":"Ni2-y","t":34.4,"v":-0.0049},{"s":"Ni2-y","t":35.7,"v":-0.006}]
},
"vconcat":[
 {"vconcat":[
  {"vconcat":[
   {"width":246,"height":73,"data":{"name":"a"},
    "layer":[
     {"mark":{"type":"line","color":"#c62a2c","strokeWidth":2,"interpolate":"monotone"},
      "encoding":{"x":{"field":"t","type":"quantitative","scale":{"domain":[0,40],"nice":false,"zero":false},"axis":{"orient":"bottom","values":[10,20,30],"tickSize":-5,"labels":false,"title":null}},
       "y":{"field":"v","type":"quantitative","scale":{"domain":[-1.25,1.15],"nice":false,"zero":false},"axis":{"orient":"left","values":[0],"tickSize":-5,"labels":false,"title":"E (t) (a.u.)","titlePadding":4}}}},
     {"data":{"values":[{}]},"mark":{"type":"point","opacity":0},"encoding":{"x":{"datum":20,"type":"quantitative","axis":{"orient":"top","values":[10,20,30],"tickSize":-5,"labels":false,"title":null}},"y":{"datum":0,"type":"quantitative","axis":{"orient":"right","values":[0],"tickSize":-5,"labels":false,"title":null}}}},
     {"data":{"values":[{}]},"mark":{"type":"point","opacity":0},"encoding":{"x":{"datum":20,"type":"quantitative","axis":{"orient":"bottom","values":[5,15,25,35],"tickSize":-3,"labels":false,"title":null}},"y":{"datum":0,"type":"quantitative","axis":{"orient":"left","values":[-0.9,-0.6,-0.3,0.3,0.6,0.9],"tickSize":-3,"labels":false,"title":null}}}},
     {"data":{"values":[{}]},"mark":{"type":"point","opacity":0},"encoding":{"x":{"datum":20,"type":"quantitative","axis":{"orient":"top","values":[5,15,25,35],"tickSize":-3,"labels":false,"title":null}},"y":{"datum":0,"type":"quantitative","axis":{"orient":"right","values":[-0.9,-0.6,-0.3,0.3,0.6,0.9],"tickSize":-3,"labels":false,"title":null}}}},
     {"data":{"values":[{}]},"mark":{"type":"text","text":"(a)","align":"left","baseline":"middle","font":"Liberation Sans","fontWeight":"bold","fontSize":12.5,"color":"#000"},"encoding":{"x":{"datum":1.3,"type":"quantitative","axis":null},"y":{"datum":-0.71,"type":"quantitative","axis":null}}}
    ],
    "resolve":{"axis":{"x":"independent","y":"independent"}}},
   {"width":246,"height":98,"data":{"name":"b"},
    "layer":[
     {"mark":{"type":"line","strokeWidth":2,"interpolate":"linear"},
      "encoding":{"x":{"field":"t","type":"quantitative","scale":{"domain":[0,40],"nice":false,"zero":false},"axis":{"orient":"bottom","values":[10,20,30],"tickSize":-5,"labels":false,"title":null}},
       "y":{"field":"v","type":"quantitative","scale":{"domain":[-0.82,0.63],"nice":false,"zero":false},"axis":{"orient":"left","values":[-0.8,-0.6,-0.4,-0.2,0,0.2,0.4,0.6],"tickSize":-5,"labelPadding":4,"labelExpr":"datum.value > 0.5 ? '' : datum.value == 0 ? '0' : (datum.value < 0 ? '-' : '') + format(abs(datum.value), '.1f')","title":"Δ mz moment (μB)","titleFontSize":12,"titlePadding":4}},
       "color":{"field":"s","type":"nominal","scale":{"domain":["Fe","Ni"],"range":["#9c0d0d","#46b47a"]},"legend":{"title":null,"orient":"none","legendX":201,"legendY":52,"symbolType":"stroke","symbolSize":324,"symbolStrokeWidth":3,"labelFont":"Liberation Serif","labelFontWeight":"bold","labelFontSize":13,"labelColor":"#000","labelOffset":5,"rowPadding":-9}},
       "strokeDash":{"field":"d","type":"nominal","scale":{"domain":["a","b"],"range":[[1,0],[7,4]]},"legend":null}}},
     {"data":{"values":[{}]},"mark":{"type":"point","opacity":0},"encoding":{"x":{"datum":20,"type":"quantitative","axis":{"orient":"top","values":[10,20,30],"tickSize":-5,"labels":false,"title":null}},"y":{"datum":0,"type":"quantitative","axis":{"orient":"right","values":[-0.8,-0.6,-0.4,-0.2,0,0.2,0.4,0.6],"tickSize":-5,"labels":false,"title":null}}}},
     {"data":{"values":[{}]},"mark":{"type":"point","opacity":0},"encoding":{"x":{"datum":20,"type":"quantitative","axis":{"orient":"bottom","values":[5,15,25,35],"tickSize":-3,"labels":false,"title":null}},"y":{"datum":0,"type":"quantitative","axis":{"orient":"left","values":[-0.7,-0.5,-0.3,-0.1,0.1,0.3,0.5],"tickSize":-3,"labels":false,"title":null}}}},
     {"data":{"values":[{}]},"mark":{"type":"point","opacity":0},"encoding":{"x":{"datum":20,"type":"quantitative","axis":{"orient":"top","values":[5,15,25,35],"tickSize":-3,"labels":false,"title":null}},"y":{"datum":0,"type":"quantitative","axis":{"orient":"right","values":[-0.7,-0.5,-0.3,-0.1,0.1,0.3,0.5],"tickSize":-3,"labels":false,"title":null}}}},
     {"data":{"values":[{}]},"mark":{"type":"text","text":"(b)","align":"left","baseline":"middle","font":"Liberation Sans","fontWeight":"bold","fontSize":12.5,"color":"#000"},"encoding":{"x":{"datum":1.5,"type":"quantitative","axis":null},"y":{"datum":-0.62,"type":"quantitative","axis":null}}}
    ],
    "resolve":{"axis":{"x":"independent","y":"independent"}}}
  ],"spacing":0,"bounds":"flush","resolve":{"scale":{"x":"independent","y":"independent","color":"independent","strokeDash":"independent"}}},
  {"vconcat":[
  {"width":246,"height":165,"data":{"name":"c"},
   "layer":[
    {"mark":{"type":"line","strokeWidth":2,"interpolate":"monotone"},
     "encoding":{"x":{"field":"t","type":"quantitative","scale":{"domain":[0,40],"nice":false,"zero":false},"axis":{"orient":"bottom","values":[10,20,30],"tickSize":-5,"labels":false,"title":null}},
      "y":{"field":"v","type":"quantitative","scale":{"domain":[-0.05,0.03],"nice":false,"zero":false},"axis":{"orient":"left","values":[-0.04,-0.02,0,0.02],"tickSize":-5,"labelPadding":4,"labelExpr":"datum.value == 0 ? '0' : (datum.value < 0 ? '-' : '') + format(abs(datum.value), '.2f')","title":"mx, my moments (μB)","titlePadding":4}},
      "color":{"field":"s","type":"nominal","scale":{"domain":["Fe1-x","Fe2-x","Ni1-x","Ni2-x","Fe1-y","Fe2-y","Ni1-y","Ni2-y"],"range":["#9c0d0d","#ff4a24","#46b47a","#177b99","#9c0d0d","#ff4a24","#46b47a","#177b99"]},"legend":null},
      "strokeDash":{"field":"s","type":"nominal","scale":{"domain":["Fe1-x","Fe2-x","Ni1-x","Ni2-x","Fe1-y","Fe2-y","Ni1-y","Ni2-y"],"range":[[1,0],[1,0],[1,0],[1,0],[7,4],[7,4],[7,4],[7,4]]},"legend":null}}},
    {"data":{"values":[{}]},"mark":{"type":"point","opacity":0},"encoding":{"x":{"datum":20,"type":"quantitative","axis":{"orient":"top","values":[10,20,30],"tickSize":-5,"labels":false,"title":null}},"y":{"datum":0,"type":"quantitative","axis":{"orient":"right","values":[-0.04,-0.02,0,0.02],"tickSize":-5,"labels":false,"title":null}}}},
    {"data":{"values":[{}]},"mark":{"type":"point","opacity":0},"encoding":{"x":{"datum":20,"type":"quantitative","axis":{"orient":"bottom","values":[5,15,25,35],"tickSize":-3,"labels":false,"title":null}},"y":{"datum":0,"type":"quantitative","axis":{"orient":"left","values":[-0.03,-0.01,0.01],"tickSize":-3,"labels":false,"title":null}}}},
    {"data":{"values":[{}]},"mark":{"type":"point","opacity":0},"encoding":{"x":{"datum":20,"type":"quantitative","axis":{"orient":"top","values":[5,15,25,35],"tickSize":-3,"labels":false,"title":null}},"y":{"datum":0,"type":"quantitative","axis":{"orient":"right","values":[-0.03,-0.01,0.01],"tickSize":-3,"labels":false,"title":null}}}},
    {"data":{"values":[{}]},"mark":{"type":"text","text":"(c)","align":"left","baseline":"middle","font":"Liberation Sans","fontWeight":"bold","fontSize":12.5,"color":"#000"},"encoding":{"x":{"datum":2.6,"type":"quantitative","axis":null},"y":{"datum":-0.0433,"type":"quantitative","axis":null}}}
   ],
   "resolve":{"axis":{"x":"independent","y":"independent"}}},
  {"width":246,"height":160,"data":{"name":"d"},
   "layer":[
    {"mark":{"type":"line","strokeWidth":2,"interpolate":"monotone"},
     "encoding":{"x":{"field":"t","type":"quantitative","scale":{"domain":[0,40],"nice":false,"zero":false},"axis":{"orient":"bottom","values":[10,20,30],"tickSize":-5,"labels":false,"title":null}},
      "y":{"field":"v","type":"quantitative","scale":{"domain":[-0.0475,0.03],"nice":false,"zero":false},"axis":{"orient":"left","values":[-0.04,-0.02,0,0.02],"tickSize":-5,"labelPadding":4,"labelExpr":"datum.value == 0 ? '0' : (datum.value < 0 ? '-' : '') + format(abs(datum.value), '.2f')","title":"mx, my moments (μB)","titlePadding":4}},
      "color":{"field":"s","type":"nominal","scale":{"domain":["Fe1-x","Fe2-x","Ni1-x","Ni2-x","Fe1-y","Fe2-y","Ni1-y","Ni2-y"],"range":["#9c0d0d","#ff4a24","#46b47a","#177b99","#9c0d0d","#ff4a24","#46b47a","#177b99"]},"legend":null},
      "strokeDash":{"field":"s","type":"nominal","scale":{"domain":["Fe1-x","Fe2-x","Ni1-x","Ni2-x","Fe1-y","Fe2-y","Ni1-y","Ni2-y"],"range":[[1,0],[1,0],[1,0],[1,0],[7,4],[7,4],[7,4],[7,4]]},"legend":null}}},
    {"data":{"values":[{}]},"mark":{"type":"point","opacity":0},"encoding":{"x":{"datum":20,"type":"quantitative","axis":{"orient":"top","values":[10,20,30],"tickSize":-5,"labels":false,"title":null}},"y":{"datum":0,"type":"quantitative","axis":{"orient":"right","values":[-0.04,-0.02,0,0.02],"tickSize":-5,"labels":false,"title":null}}}},
    {"data":{"values":[{}]},"mark":{"type":"point","opacity":0},"encoding":{"x":{"datum":20,"type":"quantitative","axis":{"orient":"bottom","values":[5,15,25,35],"tickSize":-3,"labels":false,"title":null}},"y":{"datum":0,"type":"quantitative","axis":{"orient":"left","values":[-0.03,-0.01,0.01],"tickSize":-3,"labels":false,"title":null}}}},
    {"data":{"values":[{}]},"mark":{"type":"point","opacity":0},"encoding":{"x":{"datum":20,"type":"quantitative","axis":{"orient":"top","values":[5,15,25,35],"tickSize":-3,"labels":false,"title":null}},"y":{"datum":0,"type":"quantitative","axis":{"orient":"right","values":[-0.03,-0.01,0.01],"tickSize":-3,"labels":false,"title":null}}}},
    {"data":{"values":[{}]},"mark":{"type":"text","text":"(d)","align":"left","baseline":"middle","font":"Liberation Sans","fontWeight":"bold","fontSize":12.5,"color":"#000"},"encoding":{"x":{"datum":2.4,"type":"quantitative","axis":null},"y":{"datum":-0.0432,"type":"quantitative","axis":null}}}
   ],
   "resolve":{"axis":{"x":"independent","y":"independent"}}}
  ],"spacing":6,"bounds":"flush","resolve":{"scale":{"x":"independent","y":"independent","color":"independent","strokeDash":"independent"}}}
 ],"spacing":1,"bounds":"full","resolve":{"scale":{"x":"independent","y":"independent","color":"independent","strokeDash":"independent"}}},
 {"width":246,"height":165,"data":{"name":"e"},
  "layer":[
   {"mark":{"type":"line","strokeWidth":2,"interpolate":"monotone"},
    "encoding":{"x":{"field":"t","type":"quantitative","scale":{"domain":[0,40],"nice":false,"zero":false},"axis":{"orient":"bottom","values":[0,10,20,30,40],"tickSize":-5,"labelPadding":1,"format":"d","title":"time (fs)","titlePadding":2}},
     "y":{"field":"v","type":"quantitative","scale":{"domain":[-0.05,0.03],"nice":false,"zero":false},"axis":{"orient":"left","values":[-0.04,-0.02,0,0.02],"tickSize":-5,"labelPadding":4,"labelExpr":"datum.value == 0 ? '0' : (datum.value < 0 ? '-' : '') + format(abs(datum.value), '.2f')","title":"mx, my moments (μB)","titlePadding":4}},
     "color":{"field":"s","type":"nominal","scale":{"domain":["Fe1-x","Fe2-x","Ni1-x","Ni2-x","Fe1-y","Fe2-y","Ni1-y","Ni2-y"],"range":["#9c0d0d","#ff4a24","#46b47a","#177b99","#9c0d0d","#ff4a24","#46b47a","#177b99"]},"legend":{"title":null,"orient":"bottom","direction":"horizontal","columns":4,"symbolType":"stroke","symbolSize":100,"symbolStrokeWidth":2.2,"labelFont":"Liberation Sans","labelFontSize":12,"labelColor":"#000","labelOffset":5,"columnPadding":3.5,"rowPadding":-2,"padding":5,"strokeColor":"#999","fillColor":"#fff","offset":5}},
     "strokeDash":{"field":"s","type":"nominal","scale":{"domain":["Fe1-x","Fe2-x","Ni1-x","Ni2-x","Fe1-y","Fe2-y","Ni1-y","Ni2-y"],"range":[[1,0],[1,0],[1,0],[1,0],[7,4],[7,4],[7,4],[7,4]]}}}},
   {"data":{"values":[{}]},"mark":{"type":"point","opacity":0},"encoding":{"x":{"datum":20,"type":"quantitative","axis":{"orient":"top","values":[10,20,30],"tickSize":-5,"labels":false,"title":null}},"y":{"datum":0,"type":"quantitative","axis":{"orient":"right","values":[-0.04,-0.02,0,0.02],"tickSize":-5,"labels":false,"title":null}}}},
   {"data":{"values":[{}]},"mark":{"type":"point","opacity":0},"encoding":{"x":{"datum":20,"type":"quantitative","axis":{"orient":"bottom","values":[5,15,25,35],"tickSize":-3,"labels":false,"title":null}},"y":{"datum":0,"type":"quantitative","axis":{"orient":"left","values":[-0.03,-0.01,0.01],"tickSize":-3,"labels":false,"title":null}}}},
   {"data":{"values":[{}]},"mark":{"type":"point","opacity":0},"encoding":{"x":{"datum":20,"type":"quantitative","axis":{"orient":"top","values":[5,15,25,35],"tickSize":-3,"labels":false,"title":null}},"y":{"datum":0,"type":"quantitative","axis":{"orient":"right","values":[-0.03,-0.01,0.01],"tickSize":-3,"labels":false,"title":null}}}},
   {"data":{"values":[{}]},"mark":{"type":"text","text":"(e)","align":"left","baseline":"middle","font":"Liberation Sans","fontWeight":"bold","fontSize":12.5,"color":"#000"},"encoding":{"x":{"datum":2.65,"type":"quantitative","axis":null},"y":{"datum":-0.0432,"type":"quantitative","axis":null}}}
  ],
  "resolve":{"axis":{"x":"independent","y":"independent"}}}
],
"spacing":11,"bounds":"full",
"resolve":{"scale":{"x":"independent","y":"independent","color":"independent","strokeDash":"independent"}}
}
